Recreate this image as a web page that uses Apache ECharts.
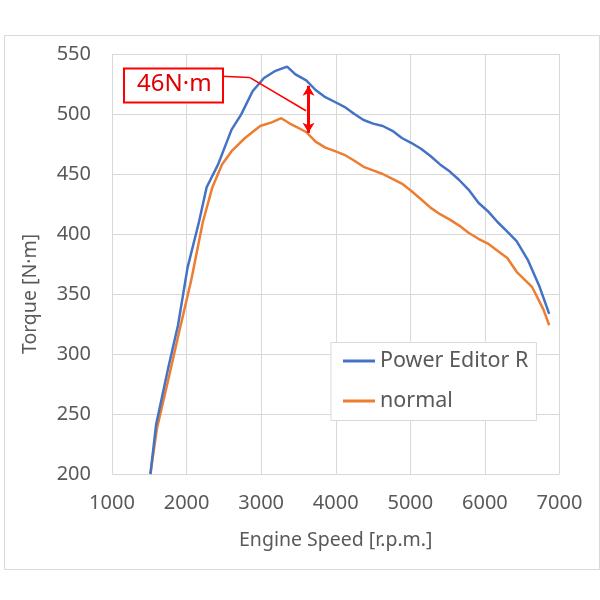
<!DOCTYPE html>
<html>
<head>
<meta charset="utf-8">
<script src="https://cdn.jsdelivr.net/npm/echarts@6/dist/echarts.min.js"></script>
<style>
  html, body { margin: 0; padding: 0; background: #fff; }
  #chart { width: 600px; height: 600px; }
</style>
</head>
<body>
<div id="chart"></div>
<script>
// 読み取った値（回転数 / トルク）
var rpmPower = [1515, 1591, 1756, 1885, 2013, 2166, 2269, 2423, 2603, 2731, 2885, 3038, 3193, 3347, 3460, 3604, 3730, 3860, 3990, 4116, 4250, 4373, 4500, 4630, 4760, 4886, 5010, 5143, 5270, 5398, 5530, 5655, 5780, 5913, 6040, 6169, 6300, 6425, 6579, 6733, 6862];
var torquePower = [200, 241, 289, 324, 372, 410, 439, 458, 487, 499.5, 519, 530, 536, 539.5, 533, 528, 520, 514, 510, 506, 500, 495, 492, 490, 486, 480, 476, 471, 465, 458, 452, 445, 437, 426, 419, 410, 402, 394, 378, 356, 333.5];
var rpmNormal = [1515, 1602, 1756, 1910, 2064, 2218, 2346, 2475, 2603, 2783, 2987, 3141, 3270, 3399, 3604, 3730, 3860, 3990, 4116, 4250, 4373, 4500, 4630, 4760, 4886, 5010, 5143, 5270, 5398, 5530, 5655, 5780, 5913, 6040, 6169, 6300, 6425, 6631, 6785, 6862];
var torqueNormal = [200, 237.7, 279, 321, 362, 410, 439, 458, 469, 480, 490, 493, 496.5, 491.5, 485, 477, 472, 469, 466, 461, 456, 453, 450, 446, 442, 436, 429, 422, 416.5, 412, 407, 401, 396, 392, 386, 380, 368.5, 356, 337, 324];

// 注記
var gapLabel = '46N·m';
var leader = [[2475, 531.5], [2844, 530.5], [3601, 502.7]];
var arrowRpm = 3635, arrowTop = 523.5, arrowBottom = 484.3;

function pairs(xs, ys) {
  return xs.map(function (x, i) { return [x, ys[i]]; });
}

var textColor = '#595959';
var font = '"Noto Sans", "DejaVu Sans", sans-serif';
var chart = echarts.init(document.getElementById('chart'));

var option = {
  animation: false,
  backgroundColor: '#fff',
  grid: { left: 112, right: 40.5, top: 54, bottom: 126 },
  legend: {
    orient: 'vertical',
    left: 331, top: 342.5,
    padding: [7.5, 8, 8.5, 12],
    backgroundColor: '#fff',
    borderColor: '#d9d9d9',
    borderWidth: 1,
    itemWidth: 32, itemHeight: 3,
    itemGap: 18,
    icon: 'rect',
    textStyle: { color: textColor, fontSize: 21.5, lineHeight: 22, fontFamily: font },
    data: ['Power Editor R', 'normal']
  },
  xAxis: {
    type: 'value', min: 1000, max: 7000, interval: 1000,
    name: 'Engine Speed [r.p.m.]',
    nameLocation: 'middle', nameGap: 56,
    nameTextStyle: { color: textColor, fontSize: 19.5, fontFamily: font },
    axisLine: { show: false }, axisTick: { show: false },
    axisLabel: { color: textColor, fontSize: 20, fontFamily: font, margin: 19,
      formatter: function (v) { return String(v); } },
    splitLine: { lineStyle: { color: '#d9d9d9', width: 1 } }
  },
  yAxis: {
    type: 'value', min: 200, max: 550, interval: 50,
    name: 'Torque [N·m]',
    nameLocation: 'middle', nameGap: 72,
    nameTextStyle: { color: textColor, fontSize: 19.5, fontFamily: font, padding: [0, 60, 0, 0] },
    axisLine: { show: false }, axisTick: { show: false },
    axisLabel: { color: textColor, fontSize: 20, fontFamily: font, margin: 21 },
    splitLine: { lineStyle: { color: '#d9d9d9', width: 1 } }
  },
  series: [
    {
      name: 'Power Editor R', type: 'line', data: pairs(rpmPower, torquePower),
      showSymbol: false, color: '#4472C4', lineStyle: { width: 2.5 }, z: 3
    },
    {
      name: 'normal', type: 'line', data: pairs(rpmNormal, torqueNormal),
      showSymbol: false, color: '#ED7D31', lineStyle: { width: 2.5 }, z: 2,
      markLine: {
        silent: true, symbol: ['none', 'none'], label: { show: false },
        lineStyle: { color: '#FF0000', width: 1.5, type: 'solid' },
        data: [
          [{ coord: leader[0] }, { coord: leader[1] }],
          [{ coord: leader[1] }, { coord: leader[2] }],
          [
            { coord: [arrowRpm, arrowTop], symbol: 'arrow', symbolSize: [9, 10] },
            { coord: [arrowRpm, arrowBottom], symbol: 'arrow', symbolSize: [9, 10], lineStyle: { width: 3 } }
          ]
        ]
      }
    }
  ],
  graphic: [
    { type: 'rect', left: 2, top: 33, shape: { width: 595, height: 534 },
      style: { fill: 'none', stroke: '#d9d9d9', lineWidth: 1 }, silent: true },
    { type: 'rect', left: 123, top: 67.5, shape: { width: 99, height: 34 },
      style: { fill: '#fff', stroke: '#FF0000', lineWidth: 2 }, z: 10 },
    { type: 'text', left: 137, top: 72, z: 11,
      style: { text: gapLabel, fill: '#E00000', font: '24px ' + font } }
  ]
};
chart.setOption(option);
</script>
</body>
</html>
